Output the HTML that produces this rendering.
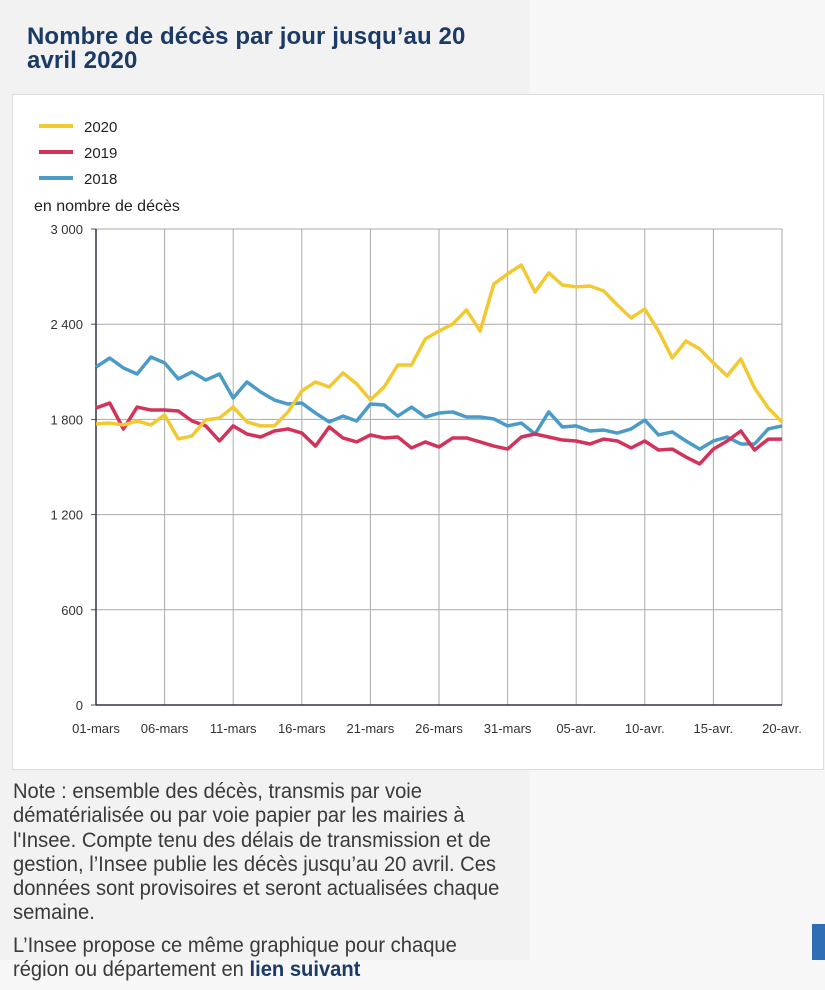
<!DOCTYPE html>
<html><head><meta charset="utf-8">
<style>
body{margin:0;width:825px;height:960px;overflow:hidden;background:#f7f7f7;font-family:"Liberation Sans",sans-serif;position:relative}
#leftbg{position:absolute;left:0;top:0;width:530px;height:960px;background:#f2f2f2}
h1{position:absolute;left:27px;top:25px;margin:0;font-size:24px;line-height:24px;color:#1b3a66;font-weight:bold;width:480px;white-space:nowrap;letter-spacing:0.1px}
#box{position:absolute;left:12px;top:94px;width:812px;height:676px;background:#fff;border:1px solid #ddd;box-sizing:border-box}
#note{position:absolute;left:13px;top:780px;width:700px;font-size:21px;line-height:24.3px;color:#3a3a3a;white-space:nowrap;transform:scaleX(0.96);transform-origin:0 0}
#note p{margin:0 0 8px 0}
#btn{position:absolute;left:812px;top:924px;width:13px;height:36px;background:#2f6db5}
</style></head><body>
<div id="leftbg"></div>
<h1>Nombre de décès par jour jusqu’au 20<br>avril 2020</h1>
<div id="box">
<svg id="chart" width="812" height="676" style="position:absolute;left:-12px;top:-94px;overflow:visible"></svg>
</div>
<div id="note">
<p>Note : ensemble des décès, transmis par voie<br>dématérialisée ou par voie papier par les mairies à<br>l'Insee. Compte tenu des délais de transmission et de<br>gestion, l’Insee publie les décès jusqu’au 20 avril. Ces<br>données sont provisoires et seront actualisées chaque<br>semaine.</p>
<p>L’Insee propose ce même graphique pour chaque<br>région ou département en <b style="color:#1b3a66">lien suivant</b></p>
</div>
<div id="btn"></div>
<script>
const xLabels=["01-mars","06-mars","11-mars","16-mars","21-mars","26-mars","31-mars","05-avr.","10-avr.","15-avr.","20-avr."];
const yTicks=[0,600,1200,1800,2400,3000];
const yTickLabels=["0","600","1 200","1 800","2 400","3 000"];
const seriesNames=["2020","2019","2018"];
const s2020=[1771,1777,1765,1790,1765,1828,1677,1696,1797,1809,1878,1784,1759,1759,1847,1979,2036,2004,2093,2024,1923,2004,2143,2143,2307,2357,2401,2490,2357,2654,2717,2773,2603,2723,2647,2635,2641,2610,2521,2439,2496,2357,2187,2294,2244,2156,2074,2181,1998,1872,1784];
const s2019=[1872,1903,1740,1878,1859,1859,1853,1790,1759,1664,1759,1708,1689,1727,1740,1714,1632,1752,1683,1658,1702,1683,1689,1620,1658,1626,1683,1683,1658,1632,1613,1689,1708,1689,1670,1664,1645,1676,1664,1620,1664,1607,1613,1563,1519,1613,1664,1727,1607,1676,1676];
const s2018=[2130,2187,2124,2086,2193,2156,2055,2099,2048,2086,1935,2036,1973,1922,1897,1903,1840,1784,1821,1790,1897,1891,1821,1878,1815,1840,1847,1815,1815,1803,1759,1777,1708,1847,1752,1759,1727,1733,1714,1740,1796,1702,1721,1664,1613,1664,1689,1645,1645,1740,1759];
const colors=["#f2c930","#d1335a","#4a9bc7"];
const svg=document.getElementById('chart');
const NS="http://www.w3.org/2000/svg";
const X0=95,X1=781,Y0=704,Y1=228,N=s2020.length;
const xS=i=>X0+i*(X1-X0)/(N-1);
const yS=v=>Y0-v*(Y0-Y1)/3000;
function mk(t,a){const e=document.createElementNS(NS,t);for(const k in a)e.setAttribute(k,a[k]);svg.appendChild(e);return e;}
yTicks.forEach((v,i)=>{
 if(v>0){const g=mk('line',{x1:X0,x2:X1,y1:yS(v),y2:yS(v),stroke:'#aaa','stroke-width':1});
 
 }
 const tk=mk('line',{x1:X0-5,x2:X0,y1:yS(v),y2:yS(v),stroke:'#555'});
 
 
 const t=mk('text',{x:82,y:yS(v)+5,'text-anchor':'end','font-size':13,fill:'#333'});
 t.textContent=yTickLabels[i];
 
 
});
xLabels.forEach((l,i)=>{
 const x=xS(i*5);
 if(i>0){const g=mk('line',{x1:x,x2:x,y1:Y1,y2:Y0,stroke:'#aaa','stroke-width':1});
 
 }
 const t=mk('text',{x:x,y:732,'text-anchor':'middle','font-size':13,fill:'#333'});
 t.textContent=l;
 
 
});
const ya=mk('line',{x1:X0,x2:X0,y1:Y1,y2:Y0,stroke:'#334',"stroke-width":1.5});


const xa=mk('line',{x1:X0,x2:X1,y1:Y0,y2:Y0,stroke:'#334',"stroke-width":1.5});


[s2018,s2019,s2020].forEach((s,k)=>{
 const idx=2-k;
 const p=mk('polyline',{points:s.map((v,i)=>xS(i)+','+yS(v)).join(' '),fill:'none',stroke:colors[idx],'stroke-width':3.5,'stroke-linejoin':'round'});
 
 
});
seriesNames.forEach((n,i)=>{
 const y=125+i*26;
 const l=mk('line',{x1:38,x2:72,y1:y,y2:y,stroke:colors[i],'stroke-width':4});
 
 
 const t=mk('text',{x:83,y:y+6,'font-size':15,fill:'#222'});
 t.textContent=n;
 
 
});
const yt=mk('text',{x:33,y:210,'font-size':16,fill:'#222'});
yt.textContent="en nombre de décès";


</script>
</body></html>
